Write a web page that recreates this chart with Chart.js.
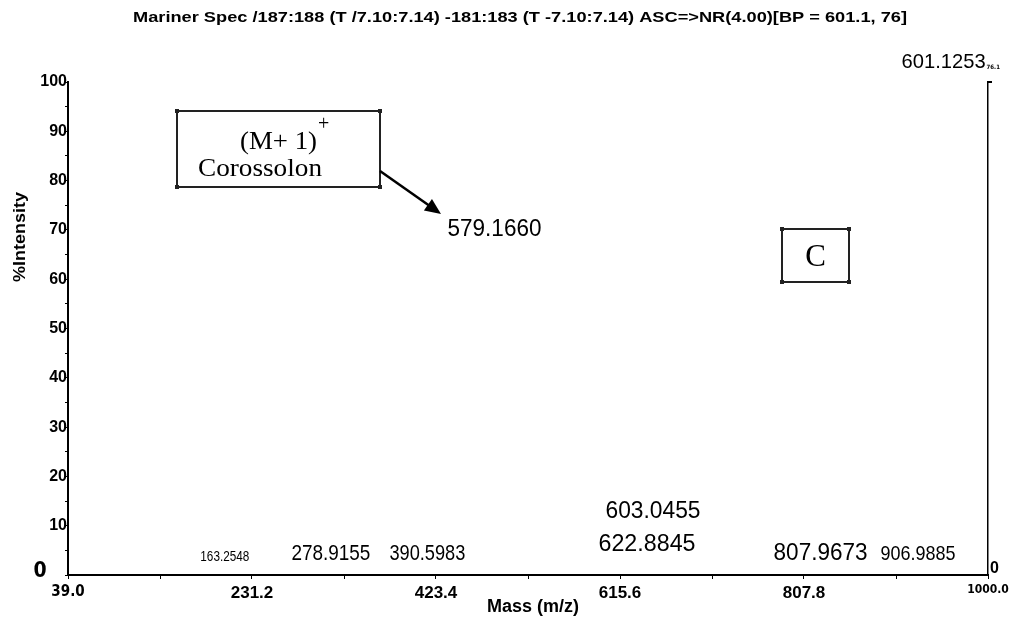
<!DOCTYPE html>
<html>
<head>
<meta charset="utf-8">
<script src="https://cdn.jsdelivr.net/npm/chart.js@4.4.0/dist/chart.umd.min.js"></script>
<style>
  html, body { margin: 0; padding: 0; background: #fff; }
  canvas { display: block; }
</style>
</head>
<body>
<canvas id="chart" width="1013" height="625"></canvas>
<script>
// peak labels
const peakMasses = [163.2548, 278.9155, 390.5983, 579.1660, 601.1253, 603.0455, 622.8845, 807.9673, 906.9885];
// where each label sits (m/z, %intensity)
const labelMz  = [202.8, 313.6, 414.4, 484.5, 953.6, 650.1, 643.8, 825.1, 927.0];
const labelPct = [3.7, 4.3, 4.3, 70.0, 104.1, 12.8, 6.1, 4.3, 4.3];
const basePeakCounts = '76.1';

// axes
const xTickValues = [39.0, 135.1, 231.2, 327.3, 423.4, 519.5, 615.6, 711.7, 807.8, 903.9, 1000.0];
const xTickLabels = ['39.0', '', '231.2', '', '423.4', '', '615.6', '', '807.8', '', '1000.0'];
const yTickValues = [0, 5, 10, 15, 20, 25, 30, 35, 40, 45, 50, 55, 60, 65, 70, 75, 80, 85, 90, 95, 100];

const titleText = 'Mariner Spec /187:188 (T /7.10:7.14) -181:183 (T -7.10:7.14) ASC=>NR(4.00)[BP = 601.1, 76]';

// label styles (font px, target width px)
const labelSize  = [15, 22, 22, 23, 21, 23, 23, 23, 21];
const labelWidth = [49, 79, 76, 94, 84, 95, 97, 94, 75];

const SANS = "'Liberation Sans', Arial, sans-serif";
const NARROW = "'Liberation Sans Narrow', 'DejaVu Sans Condensed', sans-serif";
const SERIF = "'Liberation Serif', 'Times New Roman', serif";

function drawText(ctx, txt, x, y, font, align, width) {
  ctx.save();
  ctx.font = font;
  ctx.fillStyle = '#000';
  ctx.textBaseline = 'middle';
  ctx.textAlign = 'left';
  let w = ctx.measureText(txt).width;
  let sx = width ? width / w : 1;
  let dw = w * sx;
  let left = align === 'center' ? x - dw / 2 : (align === 'right' ? x - dw : x);
  ctx.translate(left, y);
  ctx.scale(sx, 1);
  ctx.fillText(txt, 0, 0);
  ctx.restore();
  return left + dw;
}

function drawBox(ctx, x1, y1, x2, y2) {
  ctx.save();
  ctx.strokeStyle = '#222';
  ctx.lineWidth = 2;
  ctx.strokeRect(x1, y1, x2 - x1, y2 - y1);
  ctx.fillStyle = '#222';
  [[x1, y1], [x2, y1], [x1, y2], [x2, y2]].forEach(function(p) {
    ctx.fillRect(p[0] - 2, p[1] - 2, 4, 4);
  });
  ctx.restore();
}

const extras = {
  id: 'extras',
  afterDraw: function(chart) {
    const ctx = chart.ctx;
    const ys = chart.scales.y;
    const area = chart.chartArea;

    // title
    drawText(ctx, titleText, 520, 18, 'bold 15px ' + SANS, 'center', 774);

    // axis titles
    drawText(ctx, 'Mass (m/z)', 533, 607, 'bold 18px ' + SANS, 'center');
    ctx.save();
    ctx.translate(20, 237);
    ctx.rotate(-Math.PI / 2);
    drawText(ctx, '%Intensity', 0, 0, 'bold 17px ' + SANS, 'center', 90);
    ctx.restore();

    // zero labels
    drawText(ctx, '0', 40, ys.getPixelForValue(0) - 3, 'bold 21px ' + NARROW, 'center');
    drawText(ctx, '0', area.right + 2, ys.getPixelForValue(0) - 6, 'bold 16px ' + SANS, 'left');

    // little hook on the right axis
    ctx.save();
    ctx.strokeStyle = '#000';
    ctx.lineWidth = 2;
    ctx.beginPath();
    ctx.moveTo(area.right, area.top);
    ctx.lineTo(area.right + 4, area.top);
    ctx.stroke();
    ctx.restore();

    // peak labels
    const meta = chart.getDatasetMeta(0);
    meta.data.forEach(function(pt, i) {
      const txt = peakMasses[i].toFixed(4);
      const end = drawText(ctx, txt, pt.x, pt.y, labelSize[i] + 'px ' + SANS, 'center', labelWidth[i]);
      if (i === 4) {
        drawText(ctx, basePeakCounts, end + 1, pt.y + 6, 'bold 6px ' + NARROW, 'left');
      }
    });

    // annotation: (M+1)+ Corossolon
    drawBox(ctx, 177, 111, 380, 187);
    drawText(ctx, '(M+ 1)', 240, 142, '26px ' + SERIF, 'left', 77);
    drawText(ctx, '+', 318, 125, '20px ' + SERIF, 'left');
    drawText(ctx, 'Corossolon', 198, 169, '26px ' + SERIF, 'left', 124);

    // arrow
    ctx.save();
    ctx.strokeStyle = '#000';
    ctx.fillStyle = '#000';
    ctx.lineWidth = 2.5;
    const ax1 = 380, ay1 = 171, ax2 = 441, ay2 = 214;
    const ang = Math.atan2(ay2 - ay1, ax2 - ax1);
    ctx.beginPath();
    ctx.moveTo(ax1, ay1);
    ctx.lineTo(ax2 - 12 * Math.cos(ang), ay2 - 12 * Math.sin(ang));
    ctx.stroke();
    ctx.beginPath();
    ctx.moveTo(ax2, ay2);
    ctx.lineTo(ax2 - 16 * Math.cos(ang) + 7 * Math.sin(ang), ay2 - 16 * Math.sin(ang) - 7 * Math.cos(ang));
    ctx.lineTo(ax2 - 16 * Math.cos(ang) - 7 * Math.sin(ang), ay2 - 16 * Math.sin(ang) + 7 * Math.cos(ang));
    ctx.closePath();
    ctx.fill();
    ctx.restore();

    // panel letter
    drawBox(ctx, 782, 229, 849, 282);
    drawText(ctx, 'C', 815.5, 258, '31px ' + SERIF, 'center');
  }
};

const points = labelMz.map(function(m, i) { return { x: m, y: labelPct[i] }; });

new Chart(document.getElementById('chart'), {
  type: 'scatter',
  data: {
    datasets: [{
      data: points,
      pointRadius: 0,
      pointHoverRadius: 0,
      clip: false,
      yAxisID: 'y'
    }]
  },
  options: {
    responsive: false,
    animation: false,
    devicePixelRatio: 1,
    layout: { padding: { top: 82, left: 0, right: 0, bottom: 0 } },
    plugins: { legend: { display: false }, tooltip: { enabled: false }, title: { display: false } },
    scales: {
      x: {
        type: 'linear',
        position: 'bottom',
        min: 39,
        max: 1000,
        afterBuildTicks: function(s) { s.ticks = xTickValues.map(function(v) { return { value: v }; }); },
        afterFit: function(s) { s.height = 50; },
        grid: { drawOnChartArea: false, drawTicks: true, tickLength: 4, tickColor: '#000', color: '#000' },
        border: { color: '#000', width: 2 },
        ticks: {
          autoSkip: false,
          maxRotation: 0,
          padding: 4,
          color: '#000',
          callback: function(v, i) { return xTickLabels[i]; },
          font: function(c) {
            if (c.index === 0) return { family: NARROW, size: 15, weight: 'bold' };
            if (c.index === xTickValues.length - 1) return { family: NARROW, size: 12, weight: 'bold' };
            return { family: SANS, size: 17, weight: 'bold' };
          }
        }
      },
      y: {
        position: 'left',
        min: 0,
        max: 100,
        afterBuildTicks: function(s) { s.ticks = yTickValues.map(function(v) { return { value: v }; }); },
        afterFit: function(s) { s.width = 68; },
        grid: { drawOnChartArea: false, drawTicks: true, tickLength: 3, tickColor: '#000', color: '#000' },
        border: { color: '#000', width: 2 },
        ticks: {
          autoSkip: false,
          padding: -2,
          color: '#000',
          font: { family: SANS, size: 16, weight: 'bold' },
          callback: function(v) { return (v % 10 === 0 && v !== 0) ? String(v) : ''; }
        }
      },
      y2: {
        position: 'right',
        min: 0,
        max: 100,
        afterFit: function(s) { s.width = 25; },
        grid: { display: false, drawOnChartArea: false },
        border: { display: true, color: '#000', width: 1.5 },
        ticks: { display: false }
      }
    }
  },
  plugins: [extras]
});
</script>
</body>
</html>
